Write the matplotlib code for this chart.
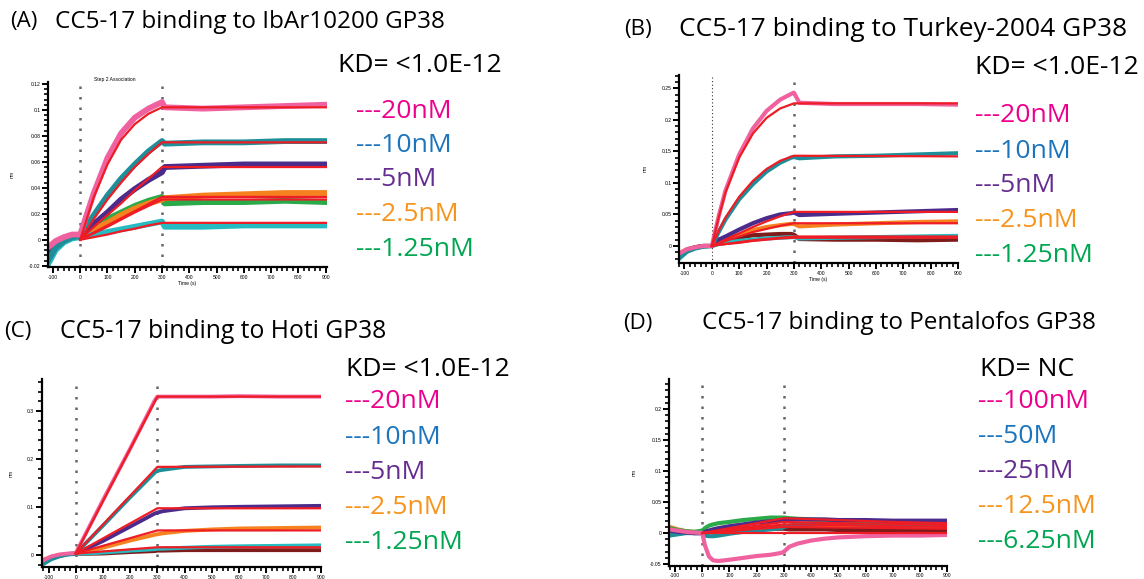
import matplotlib
matplotlib.use("Agg")
import matplotlib.pyplot as plt
from matplotlib.ticker import MultipleLocator, AutoMinorLocator
import numpy as np

# ---- colours ----
raw_pink = "#F0629F"
raw_teal = "#1F8E98"
raw_purple = "#4B2B8B"
raw_orange = "#F5821F"
raw_green = "#2BAA4A"
raw_cyan = "#25BBC0"
raw_maroon = "#7E1B1B"
fit_red = "#EE1C25"
leg_colors = ["#EC008C", "#1C75BC", "#662D91", "#F7941D", "#00A651"]

# ---- panel A : IbAr10200 ----
tA = [-118, -90, -60, -30, 0, 50, 100, 150, 200, 250, 300, 310, 450, 600, 750, 905]
A_pink = [-0.006, -0.001, 0.002, 0.004, 0.004, 0.036, 0.063, 0.082, 0.094, 0.101, 0.106, 0.102, 0.101, 0.102, 0.103, 0.104]
A_teal = [-0.016, -0.006, -0.001, 0.002, 0.003, 0.019, 0.034, 0.047, 0.058, 0.068, 0.076, 0.074, 0.075, 0.075, 0.076, 0.076]
A_purple = [-0.010, -0.003, 0.001, 0.003, 0.003, 0.012, 0.021, 0.031, 0.039, 0.046, 0.052, 0.056, 0.057, 0.058, 0.058, 0.058]
A_orange = [-0.008, -0.002, 0.001, 0.003, 0.003, 0.008, 0.013, 0.019, 0.024, 0.028, 0.031, 0.032, 0.034, 0.035, 0.036, 0.036]
A_green = [-0.010, -0.003, 0.001, 0.003, 0.003, 0.010, 0.016, 0.021, 0.026, 0.030, 0.033, 0.028, 0.029, 0.029, 0.030, 0.029]
A_cyan = [-0.019, -0.008, -0.002, 0.001, 0.002, 0.004, 0.006, 0.008, 0.010, 0.012, 0.014, 0.010, 0.010, 0.011, 0.011, 0.011]
tfA = [0, 50, 100, 150, 200, 250, 300, 905]
A_fits = [
    [0, 0.033, 0.058, 0.077, 0.089, 0.097, 0.102, 0.102],
    [0, 0.016, 0.031, 0.044, 0.056, 0.066, 0.075, 0.075],
    [0, 0.010, 0.019, 0.028, 0.038, 0.047, 0.056, 0.056],
    [0, 0.0055, 0.011, 0.0165, 0.022, 0.0275, 0.033, 0.033],
    [0, 0.005, 0.010, 0.0155, 0.021, 0.026, 0.031, 0.031],
    [0, 0.002, 0.004, 0.0065, 0.0085, 0.011, 0.013, 0.013],
]

# ---- panel B : Turkey-2004 ----
tB = [-120, -90, -60, -30, 0, 25, 50, 100, 150, 200, 250, 290, 300, 320, 450, 600, 750, 900]
B_pink = [-0.012, -0.005, -0.002, 0.0, 0.0, 0.047, 0.088, 0.145, 0.186, 0.214, 0.232, 0.241, 0.243, 0.227, 0.225, 0.225, 0.225, 0.224]
B_teal = [-0.020, -0.009, -0.004, -0.001, 0.0, 0.022, 0.042, 0.074, 0.098, 0.118, 0.132, 0.140, 0.141, 0.139, 0.142, 0.143, 0.145, 0.147]
B_purple = [-0.014, -0.006, -0.002, 0.0, 0.0, 0.010, 0.015, 0.026, 0.036, 0.044, 0.050, 0.052, 0.053, 0.049, 0.051, 0.053, 0.055, 0.057]
B_orange = [-0.012, -0.005, -0.002, 0.0, 0.0, 0.006, 0.010, 0.018, 0.025, 0.030, 0.033, 0.035, 0.035, 0.031, 0.034, 0.036, 0.038, 0.039]
B_maroon = [-0.014, -0.006, -0.002, 0.0, 0.0, 0.004, 0.008, 0.013, 0.017, 0.018, 0.019, 0.019, 0.018, 0.011, 0.010, 0.010, 0.009, 0.010]
B_cyan = [-0.020, -0.008, -0.003, -0.001, 0.0, 0.003, 0.005, 0.008, 0.010, 0.012, 0.013, 0.014, 0.014, 0.012, 0.013, 0.014, 0.015, 0.016]
tfB = [0, 25, 50, 100, 150, 200, 250, 300, 900]
B_fits = [
    [0, 0.045, 0.085, 0.140, 0.178, 0.203, 0.218, 0.226, 0.226],
    [0, 0.024, 0.045, 0.078, 0.103, 0.122, 0.135, 0.143, 0.142],
    [0, 0.005, 0.010, 0.020, 0.030, 0.039, 0.047, 0.054, 0.054],
    [0, 0.004, 0.008, 0.015, 0.022, 0.027, 0.032, 0.036, 0.036],
    [0, 0.002, 0.003, 0.006, 0.009, 0.011, 0.013, 0.015, 0.015],
    [0, 0.002, 0.003, 0.005, 0.008, 0.010, 0.012, 0.013, 0.013],
]

# ---- panel C : Hoti ----
tC = [-125, -90, -60, -30, 0, 100, 200, 290, 300, 320, 400, 500, 600, 750, 900]
C_pink = [-0.012, -0.002, 0.002, 0.004, 0.005, 0.115, 0.222, 0.322, 0.330, 0.330, 0.330, 0.330, 0.331, 0.330, 0.330]
C_teal = [-0.020, -0.008, -0.002, 0.002, 0.004, 0.062, 0.121, 0.172, 0.176, 0.178, 0.184, 0.185, 0.186, 0.187, 0.187]
C_purple = [-0.012, -0.004, 0.0, 0.003, 0.004, 0.030, 0.060, 0.087, 0.089, 0.092, 0.098, 0.100, 0.101, 0.102, 0.103]
C_orange = [-0.010, -0.003, 0.001, 0.003, 0.004, 0.016, 0.031, 0.043, 0.044, 0.046, 0.051, 0.054, 0.056, 0.057, 0.058]
C_maroon = [-0.012, -0.004, 0.0, 0.003, 0.003, 0.004, 0.007, 0.009, 0.010, 0.010, 0.011, 0.011, 0.011, 0.011, 0.011]
C_cyan = [-0.018, -0.007, -0.001, 0.002, 0.003, 0.006, 0.010, 0.013, 0.014, 0.014, 0.016, 0.018, 0.019, 0.020, 0.021]
tfC = [0, 300, 900]
C_fits = [
    [0.004, 0.330, 0.330],
    [0.004, 0.184, 0.185],
    [0.004, 0.098, 0.098],
    [0.004, 0.052, 0.052],
    [0.004, 0.017, 0.017],
]

# ---- panel D : Pentalofos ----
tD = [-121, -90, -60, -30, 0, 10, 25, 40, 60, 100, 150, 200, 250, 290, 300, 320, 350, 400, 450, 500, 600, 700, 800, 900]
D_green = [0.008, 0.005, 0.003, 0.002, 0.004, 0.008, 0.012, 0.014, 0.016, 0.018, 0.021, 0.023, 0.025, 0.025, 0.025, 0.024, 0.023, 0.022, 0.021, 0.020, 0.018, 0.017, 0.016, 0.015]
D_purple = [0.004, 0.002, 0.001, 0.0, 0.0, 0.002, 0.004, 0.006, 0.008, 0.011, 0.014, 0.017, 0.019, 0.020, 0.021, 0.022, 0.022, 0.022, 0.022, 0.021, 0.021, 0.020, 0.020, 0.020]
D_teal = [-0.004, -0.002, 0.0, 0.0, 0.0, -0.004, -0.005, -0.005, -0.004, -0.001, 0.002, 0.004, 0.006, 0.008, 0.010, 0.012, 0.014, 0.015, 0.015, 0.015, 0.014, 0.014, 0.013, 0.013]
D_maroon = [0.003, 0.002, 0.001, 0.0, 0.0, 0.001, 0.002, 0.002, 0.003, 0.004, 0.005, 0.006, 0.007, 0.007, 0.007, 0.006, 0.006, 0.006, 0.006, 0.005, 0.005, 0.005, 0.005, 0.005]
D_orange = [0.010, 0.006, 0.003, 0.002, 0.0, 0.002, 0.003, 0.004, 0.005, 0.006, 0.008, 0.009, 0.010, 0.011, 0.011, 0.011, 0.011, 0.010, 0.009, 0.009, 0.008, 0.007, 0.006, 0.006]
D_pink = [0.006, 0.004, 0.002, 0.001, 0.0, -0.020, -0.038, -0.044, -0.045, -0.043, -0.040, -0.037, -0.035, -0.032, -0.030, -0.022, -0.017, -0.012, -0.009, -0.007, -0.005, -0.004, -0.004, -0.003]
tfD = [0, 300, 500, 700, 900]
D_fits = [
    [0, 0.024, 0.021, 0.018, 0.016],
    [0, 0.018, 0.016, 0.015, 0.013],
    [0, 0.014, 0.013, 0.011, 0.010],
    [0, 0.010, 0.009, 0.008, 0.007],
    [0, 0.0, 0.0, 0.0, 0.0],
]

# ---- text ----
titles = ["CC5-17 binding to IbAr10200 GP38", "CC5-17 binding to Turkey-2004 GP38",
          "CC5-17 binding to Hoti GP38", "CC5-17 binding to Pentalofos GP38"]
letters = ["(A)", "(B)", "(C)", "(D)"]
kd_text = ["KD= <1.0E-12", "KD= <1.0E-12", "KD= <1.0E-12", "KD= NC"]
conc_low = ["---20nM", "---10nM", "---5nM", "---2.5nM", "---1.25nM"]
conc_high = ["---100nM", "---50M", "---25nM", "---12.5nM", "---6.25nM"]

W, H = 1144, 579
fig = plt.figure(figsize=(W / 100, H / 100), dpi=100)
TXT = ["Open Sans", "DejaVu Sans"]
TICK = "Liberation Sans"


def px_axes(left, top, right, bottom):
    return fig.add_axes([left / W, 1 - bottom / H, (right - left) / W, (bottom - top) / H])


def yfmt(v, p):
    if abs(v) < 1e-9:
        return "0"
    return ("%.2f" % v).rstrip("0")


def style(ax, xlim, ylim, ymaj):
    ax.set_xlim(*xlim)
    ax.set_ylim(*ylim)
    for s in ["top", "right"]:
        ax.spines[s].set_visible(False)
    for s in ["left", "bottom"]:
        ax.spines[s].set_linewidth(1.6)
    ax.xaxis.set_major_locator(MultipleLocator(100))
    ax.xaxis.set_minor_locator(AutoMinorLocator(5))
    ax.yaxis.set_major_locator(MultipleLocator(ymaj))
    ax.yaxis.set_minor_locator(AutoMinorLocator(5))
    ax.tick_params(which="major", length=4, width=1.4, labelsize=3.6, pad=1.5)
    ax.tick_params(which="minor", length=3, width=1.2)
    ax.xaxis.set_major_formatter(plt.FuncFormatter(lambda v, p: "%d" % v))
    ax.yaxis.set_major_formatter(plt.FuncFormatter(yfmt))
    for lab in ax.get_xticklabels() + ax.get_yticklabels():
        lab.set_fontfamily(TICK)
    ax.set_ylabel("nm", fontsize=3.6, fontfamily=TICK, labelpad=10)
    ax.patch.set_alpha(0)


def vline(ax, x, thick=True):
    if thick:
        ax.axvline(x, color="#666666", lw=1.8, ls=(0, (1, 3.2)), dash_capstyle="butt", zorder=1)
    else:
        ax.axvline(x, color="#333333", lw=0.8, ls=(0, (1, 2.2)), zorder=1)


def draw(ax, t, raws, tf, fits, lw=3.2):
    for col, y in raws:
        ax.plot(t, y, color=col, lw=lw, solid_joinstyle="round", zorder=2)
    for y in fits:
        ax.plot(tf, y, color=fit_red, lw=1.6, zorder=3)


# panel A
axA = px_axes(48, 82, 327, 267)
vline(axA, 0)
vline(axA, 300)
draw(axA, tA, [(raw_green, A_green), (raw_orange, A_orange), (raw_cyan, A_cyan), (raw_purple, A_purple),
               (raw_teal, A_teal), (raw_pink, A_pink)], tfA, A_fits, lw=4.2)
style(axA, (-118, 905), (-0.021, 0.1215), 0.02)
axA.text(0.24, 1.0, "Step 2 Association", transform=axA.transAxes, fontsize=3.6,
         fontfamily=TICK, ha="center", va="bottom")
axA.set_xlabel("Time (s)", fontsize=3.6, fontfamily=TICK, labelpad=1)

# panel B
axB = px_axes(679, 75, 958, 263)
vline(axB, 0, thick=False)
vline(axB, 300)
draw(axB, tB, [(raw_maroon, B_maroon), (raw_cyan, B_cyan), (raw_orange, B_orange), (raw_purple, B_purple),
               (raw_teal, B_teal), (raw_pink, B_pink)], tfB, B_fits, lw=3.0)
style(axB, (-120, 900), (-0.027, 0.271), 0.05)
axB.set_xlabel("Time (s)", fontsize=3.6, fontfamily=TICK, labelpad=1)

# panel C
axC = px_axes(41.7, 379.3, 320.7, 567)
vline(axC, 0)
vline(axC, 300)
draw(axC, tC, [(raw_maroon, C_maroon), (raw_cyan, C_cyan), (raw_orange, C_orange), (raw_purple, C_purple),
               (raw_teal, C_teal), (raw_pink, C_pink)], tfC, C_fits, lw=2.8)
style(axC, (-125, 900), (-0.024, 0.366), 0.1)

# panel D
axD = px_axes(669.3, 379.3, 947.3, 565.7)
vline(axD, 0)
vline(axD, 300)
draw(axD, tD, [(raw_orange, D_orange), (raw_maroon, D_maroon), (raw_teal, D_teal), (raw_green, D_green),
               (raw_purple, D_purple), (raw_pink, D_pink)], tfD, D_fits, lw=3.0)
style(axD, (-121, 900), (-0.0526, 0.248), 0.05)

# pick the text size so that title A spans ~391 px like the reference
renderer = fig.canvas.get_renderer()
probe = fig.text(0, 0, titles[0], fontsize=10, fontfamily=TXT)
w10 = probe.get_window_extent(renderer).width
probe.remove()
FS = 10 * 391 / w10


def ftext(x, y, s, size=FS, color="black", **kw):
    fig.text(x / W, 1 - y / H, s, fontsize=size, color=color, fontfamily=TXT,
             ha="left", va="center", **kw)


# titles: (letter x, title x, y, size factor)
title_pos = [(10, 55, 22, 1.0), (624, 679, 30, 1.08), (4, 60, 331, 1.02), (623, 702, 323, 1.0)]
for (lx, tx, ty, k), let, tt in zip(title_pos, letters, titles):
    ftext(lx, ty, let, size=FS * 0.92)
    ftext(tx, ty, tt, size=FS * k)

LS = FS * 1.09
kd_pos = [(338, 65), (975, 67), (346, 370), (980, 369)]
for (kx, ky), kd in zip(kd_pos, kd_text):
    ftext(kx, ky, kd, size=LS)

legend_pos = [(356, 111), (975, 116), (345, 402), (978, 401)]
legend_step = [34.5, 35, 35.2, 35.2]
legend_labels = [conc_low, conc_low, conc_low, conc_high]
for (lx, ly), step, labs in zip(legend_pos, legend_step, legend_labels):
    for i, (lab, col) in enumerate(zip(labs, leg_colors)):
        ftext(lx, ly + i * step, lab, color=col, size=LS)

fig.savefig("out.png", dpi=100)
